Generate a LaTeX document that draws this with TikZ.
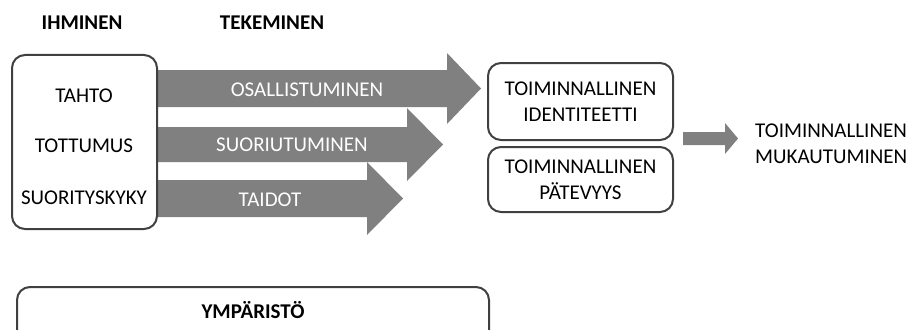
\documentclass[tikz,border=0pt]{standalone}
\usepackage{fontspec}
\setmainfont{Carlito}
\usetikzlibrary{positioning}

\definecolor{arrowgray}{HTML}{808080}
\definecolor{boxline}{HTML}{404040}

\tikzset{
  txt/.style={font=\fontsize{21}{26}\selectfont, align=center, inner sep=0pt},
  head/.style={txt, font=\fontsize{21}{26}\selectfont\bfseries},
  intxt/.style={txt, text=white},
  roundbox/.style={draw=boxline, line width=2pt, rounded corners=13pt}
}

\begin{document}
\begin{tikzpicture}[x=1pt, y=-1pt]
  \useasboundingbox (0,0) rectangle (909,329);

  % headings
  \node[head] (ihminen) at (82,23) {IHMINEN};
  \node[head] (tekeminen) at (272,23) {TEKEMINEN};

  % the three grey arrows
  \fill[arrowgray] (157,70) -- (447,70) -- (447,53) -- (481,88.5) -- (447,124) -- (447,107) -- (157,107) -- cycle;
  \fill[arrowgray] (157,127) -- (407,127) -- (407,108) -- (443,144.5) -- (407,181) -- (407,162) -- (157,162) -- cycle;
  \fill[arrowgray] (157,180) -- (367,180) -- (367,162) -- (403,198.5) -- (367,235) -- (367,217) -- (157,217) -- cycle;

  \node[intxt] (osall) at (307,90) {OSALLISTUMINEN};
  \node[intxt] (suoriut) at (292,145) {SUORIUTUMINEN};
  \node[intxt] (taidot) at (270,200) {TAIDOT};

  % person box
  \draw[roundbox] (12,55) rectangle (157,229);
  \node[txt] (tahto) at (84,96) {TAHTO};
  \node[txt] (tottumus) at (84,146) {TOTTUMUS};
  \node[txt] (suorityskyky) at (84,198) {SUORITYSKYKY};

  % outcome boxes
  \node[roundbox, minimum width=185pt, minimum height=77pt, txt] (identiteetti) at (580.5,101.5) {TOIMINNALLINEN\\IDENTITEETTI};
  \node[roundbox, minimum width=185pt, minimum height=65pt, txt] (patevyys) at (580.5,179.5) {TOIMINNALLINEN\\PÄTEVYYS};

  % small arrow
  \fill[arrowgray] (683,132) -- (725,132) -- (725,123) -- (738,138.5) -- (725,154) -- (725,145) -- (683,145) -- cycle;
  \node[txt, anchor=west, align=left] (mukautuminen) at (755,144) {TOIMINNALLINEN\\MUKAUTUMINEN};

  % environment
  \draw[roundbox] (17,345) -- (17,287) -- (489,287) -- (489,345);
  \node[head] (ymparisto) at (253,310) {YMPÄRISTÖ};
\end{tikzpicture}
\end{document}
